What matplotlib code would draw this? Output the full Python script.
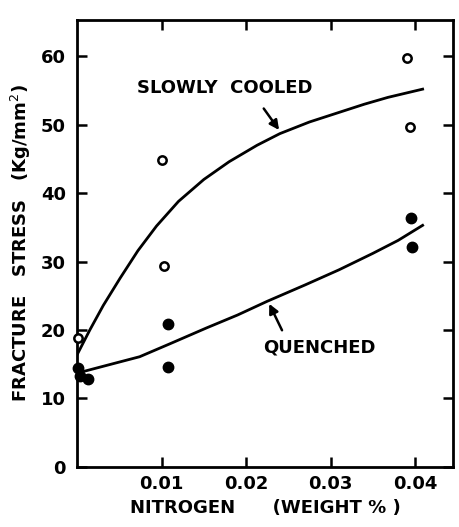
import matplotlib.pyplot as plt

# open circles: slowly cooled
slow_x = [0.0001, 0.0101, 0.0103, 0.0390, 0.0394]
slow_y = [18.9, 44.9, 29.4, 59.7, 49.6]

# filled circles: quenched
quench_x = [0.0001, 0.0003, 0.0013, 0.0107, 0.0108, 0.0395, 0.0396]
quench_y = [14.4, 13.3, 12.9, 20.9, 14.6, 36.4, 32.2]

# curves
slow_cx = [0.0000, 0.0015, 0.0031, 0.0051, 0.0072, 0.0094, 0.0120, 0.0150,
           0.0180, 0.0213, 0.0240, 0.0275, 0.0310, 0.0340, 0.0368, 0.0409]
slow_cy = [16.4, 20.0, 23.6, 27.6, 31.6, 35.2, 38.8, 42.0,
           44.6, 47.0, 48.7, 50.4, 51.8, 53.0, 54.0, 55.2]
quench_cx = [0.0003, 0.0040, 0.0074, 0.0110, 0.0153, 0.0190, 0.0225, 0.0270, 0.0310, 0.0350, 0.0380, 0.0409]
quench_cy = [13.8, 15.0, 16.1, 18.0, 20.3, 22.2, 24.2, 26.6, 28.8, 31.2, 33.1, 35.3]

xticks = [0.01, 0.02, 0.03, 0.04]
xlabels = ['0.01', '0.02', '0.03', '0.04']
yticks = [0, 10, 20, 30, 40, 50, 60]

fig = plt.figure(figsize=(4.59, 5.27), dpi=100)
ax = fig.add_axes([0.168, 0.114, 0.819, 0.848])

ax.plot(slow_cx, slow_cy, color='black', lw=2)
ax.plot(quench_cx, quench_cy, color='black', lw=2)
ax.plot(slow_x, slow_y, 'o', ms=6, mfc='white', mec='black', mew=1.8, ls='none', clip_on=False, zorder=3)
ax.plot(quench_x, quench_y, 'o', ms=7.5, color='black', ls='none', clip_on=False, zorder=3)

ax.text(0.0175, 55.4, 'SLOWLY  COOLED', ha='center', va='center', fontsize=13, fontweight='bold')
ax.text(0.0287, 17.4, 'QUENCHED', ha='center', va='center', fontsize=13, fontweight='bold')
ax.annotate('', xy=(0.0241, 48.9), xytext=(0.0219, 52.7),
            arrowprops=dict(arrowstyle='-|>', color='black', lw=1.8, mutation_scale=14))
ax.annotate('', xy=(0.0226, 24.2), xytext=(0.0244, 19.6),
            arrowprops=dict(arrowstyle='-|>', color='black', lw=1.8, mutation_scale=14))

ax.set_xlim(0, 0.0445)
ax.set_ylim(0, 65.3)
ax.set_xticks(xticks)
ax.set_xticklabels(xlabels)
ax.set_yticks(yticks)
ax.tick_params(direction='in', length=7, width=1.8, top=True, right=True,
               labelsize=13, pad=8)
ax.tick_params(axis='x', pad=6)
for lbl in ax.get_xticklabels() + ax.get_yticklabels():
    lbl.set_fontweight('bold')
for s in ax.spines.values():
    s.set_linewidth(2)

ax.set_xlabel('NITROGEN      (WEIGHT % )', fontsize=13, fontweight='bold', labelpad=4)
ax.set_ylabel('FRACTURE   STRESS   (Kg/mm$^2$)', fontsize=13, fontweight='bold', labelpad=6)

fig.savefig('out.png', dpi=100)
